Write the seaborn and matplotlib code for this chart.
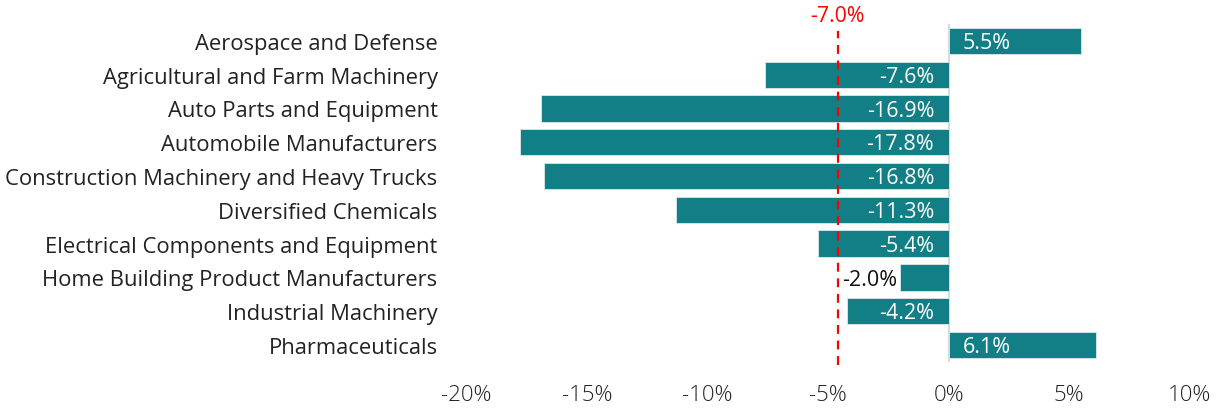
import pandas as pd
import numpy as np
import matplotlib.pyplot as plt
import seaborn as sns

# data
industries = [
    "Aerospace and Defense",
    "Agricultural and Farm Machinery",
    "Auto Parts and Equipment",
    "Automobile Manufacturers",
    "Construction Machinery and Heavy Trucks",
    "Diversified Chemicals",
    "Electrical Components and Equipment",
    "Home Building Product Manufacturers",
    "Industrial Machinery",
    "Pharmaceuticals",
]
changes = [5.5, -7.6, -16.9, -17.8, -16.8, -11.3, -5.4, -2.0, -4.2, 6.1]
ref_line = -4.6
ref_label = "-7.0%"
xticks = [-20, -15, -10, -5, 0, 5, 10]

df = pd.DataFrame({"industry": industries, "change": changes})

sns.set_theme(style="white")
plt.rcParams["font.family"] = ["Open Sans", "DejaVu Sans"]

fig = plt.figure(figsize=(12.25, 4.1), dpi=100)
ax = fig.add_axes([0.381, 0.115, 0.592, 0.824])

bar_color = "#127f86"
sns.barplot(data=df, y="industry", x="change", orient="h", color=bar_color,
            saturation=1, width=0.78, edgecolor="#dfe8e8", linewidth=0.6, ax=ax)

ax.set_xlim(-19.9, 10.1)
ax.set_ylim(len(industries) - 0.5, -0.5)
ax.set_xticks(xticks)
ax.set_xticklabels([f"{t}%" for t in xticks], fontsize=16, color="#222222",
                   fontweight="light")
ax.tick_params(axis="y", labelsize=15.8, colors="#222222", length=0, pad=21)
ax.tick_params(axis="x", length=0, pad=16)
ax.set_xlabel("")
ax.set_ylabel("")
for s in ax.spines.values():
    s.set_visible(False)

# zero line
ax.axvline(0, color="#d5dcdc", lw=1.5, zorder=0.5)

# bar labels
fs = 15.5
for i, v in enumerate(changes):
    txt = f"{v:.1f}%"
    if v >= 0:
        ax.text(0.6, i + 0.05, txt, ha="left", va="center", color="white", fontsize=fs)
    elif abs(v) < 3:
        ax.text(v - 0.15, i + 0.05, txt, ha="right", va="center", color="#111111", fontsize=fs)
    else:
        ax.text(-0.6, i + 0.05, txt, ha="right", va="center", color="white", fontsize=fs)

# reference line
ax.plot([ref_line, ref_line], [len(industries) - 0.4, -0.3], color="#ff0000",
        lw=1.6, ls=(0, (4, 3)), zorder=3, clip_on=False)
ax.text(ref_line, -0.45, ref_label, ha="center", va="bottom", color="#ff0000",
        fontsize=15.3)

plt.savefig("out.png", dpi=100)
